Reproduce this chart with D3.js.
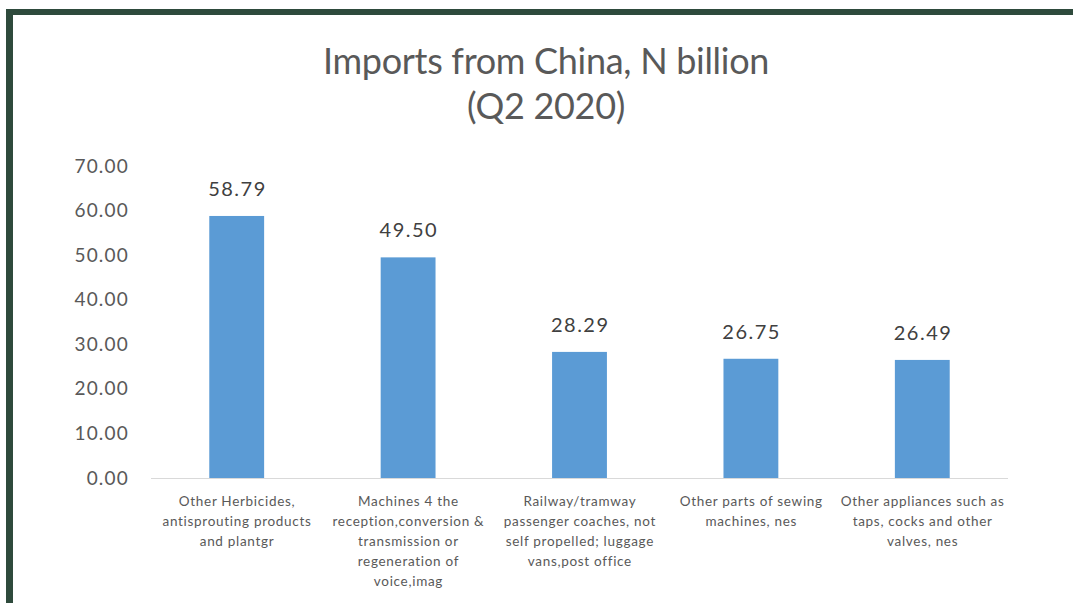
<!DOCTYPE html>
<html><head><meta charset="utf-8">
<script src="https://cdn.jsdelivr.net/npm/d3@7"></script>
<style>body{margin:0;background:#fff}svg{display:block}</style>
</head><body>
<svg id="c" width="1073" height="603"></svg>
<script>
const categories = [
  ["Other Herbicides,", "antisprouting products", "and plantgr"],
  ["Machines 4 the", "reception,conversion &", "transmission or", "regeneration of", "voice,imag"],
  ["Railway/tramway", "passenger coaches, not", "self propelled; luggage", "vans,post office"],
  ["Other parts of sewing", "machines, nes"],
  ["Other appliances such as", "taps, cocks and other", "valves, nes"]
];
const values = [58.79, 49.50, 28.29, 26.75, 26.49];
const yTicks = [0, 10, 20, 30, 40, 50, 60, 70];
const titleLines = ["Imports from China, N billion", "(Q2 2020)"];

(function () {
const svg = d3.select("#c");
const font = "Lato, 'Open Sans', sans-serif";
svg.append("rect").attr("x", 6).attr("y", 9).attr("width", 1067).attr("height", 6).attr("fill", "#2e4a3c");
svg.append("rect").attr("x", 6).attr("y", 9).attr("width", 7).attr("height", 594).attr("fill", "#2e4a3c");

const pL = 151, pR = 1008, pT = 166, pB = 478;
const x = d3.scaleBand().domain(d3.range(values.length)).range([pL, pR]).paddingInner(0.68).paddingOuter(0.34);
const y = d3.scaleLinear().domain([0, 70]).range([pB, pT]);

svg.selectAll("text.title").data(titleLines).enter().append("text")
  .attr("x", 546).attr("y", (d, i) => 74 + i * 45).attr("text-anchor", "middle")
  .attr("font-family", font).attr("font-size", 36).attr("letter-spacing", -0.3)
  .attr("fill", "#595959").text(d => d);

const yAxis = d3.axisLeft(y).tickValues(yTicks).tickFormat(d3.format(".2f")).tickSize(0).tickPadding(0);
const ga = svg.append("g").attr("transform", "translate(129,0)").call(yAxis);
ga.select(".domain").remove();
ga.selectAll("text").attr("font-family", font).attr("font-size", 19).attr("letter-spacing", 1.2).attr("fill", "#595959");

svg.selectAll("rect.bar").data(values).enter().append("rect")
  .attr("x", (d, i) => x(i)).attr("width", x.bandwidth())
  .attr("y", d => y(d)).attr("height", d => y(0) - y(d)).attr("fill", "#5b9bd5");

svg.append("line").attr("x1", pL).attr("x2", pR).attr("y1", pB + 0.5).attr("y2", pB + 0.5)
  .attr("stroke", "#d9d9d9").attr("stroke-width", 1);

svg.selectAll("text.val").data(values).enter().append("text")
  .attr("x", (d, i) => x(i) + x.bandwidth() / 2 + 0.75).attr("y", d => y(d) - 20)
  .attr("text-anchor", "middle").attr("font-family", font).attr("font-size", 20).attr("letter-spacing", 1.5)
  .attr("fill", "#404040")
  .text(d => d3.format(".2f")(d));

categories.forEach((lines, i) => {
  const t = svg.append("text").attr("text-anchor", "middle").attr("font-family", font)
    .attr("font-size", 13.5).attr("letter-spacing", 0.7).attr("fill", "#595959");
  lines.forEach((l, j) => t.append("tspan").attr("x", x(i) + x.bandwidth() / 2 + 0.35).attr("y", 506 + j * 20).text(l));
});
})();
</script>
</body></html>
